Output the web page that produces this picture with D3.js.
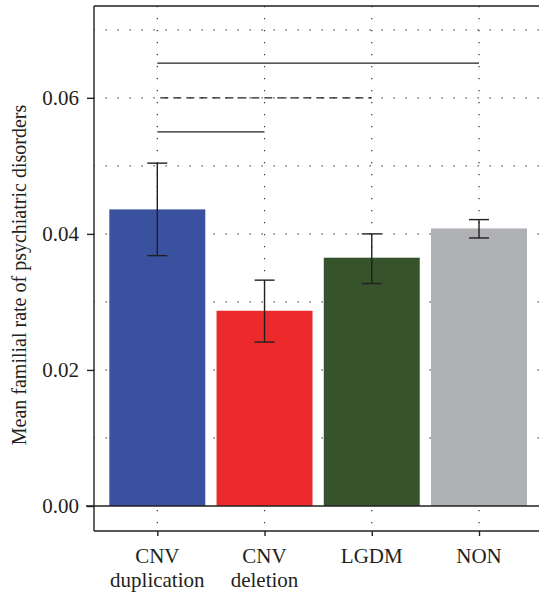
<!DOCTYPE html>
<html><head><meta charset="utf-8">
<script src="https://cdn.jsdelivr.net/npm/d3@7"></script>
<style>
html,body{margin:0;padding:0;background:#fff;}
svg{display:block;}
text{font-family:"Liberation Serif","DejaVu Serif",serif;fill:#231f20;}
</style></head>
<body>
<svg id="chart" width="539" height="592"></svg>
<script>
const categories = [["CNV","duplication"],["CNV","deletion"],["LGDM"],["NON"]];
const means = [0.0436, 0.0287, 0.0365, 0.0408];
const lowers = [0.0368, 0.0241, 0.0327, 0.0394];
const uppers = [0.0504, 0.0332, 0.0400, 0.0421];
const colors = ["#3a51a0", "#ed2a2b", "#36532c", "#b0b1b4"];
const yTicks = [0, 0.02, 0.04, 0.06];
const yGrid = [0.01, 0.02, 0.03, 0.04, 0.05, 0.06, 0.07];
// significance brackets
const sigFrom = [0, 0, 0];
const sigTo = [3, 2, 1];
const sigY = [0.0651, 0.0600, 0.0550];
const sigDashed = [false, true, false];

(function(){
const svg = d3.select("#chart");
const pL = 94, pR = 560, pT = 6, pB = 531;
const y = d3.scaleLinear().domain([-0.003676, 0.0735]).range([pB, pT]);
const x = d3.scalePoint().domain(d3.range(categories.length)).range([157.3, 479]);
const barW = x.step() * 0.895;

// grid (dotted)
const grid = svg.append("g").attr("stroke", "#333").attr("stroke-width", 1.2)
  .attr("stroke-dasharray", "1.2,10.8");
grid.selectAll("line.h").data(yGrid).join("line").attr("class","h")
  .attr("x1", pL).attr("x2", pR).attr("y1", d => y(d)).attr("y2", d => y(d))
  .attr("stroke-dashoffset", -11.5);
grid.selectAll("line.v").data(d3.range(categories.length)).join("line").attr("class","v")
  .attr("x1", d => x(d)).attr("x2", d => x(d)).attr("y1", pT).attr("y2", pB)
  .attr("stroke-dashoffset", -12);

// bars
svg.append("g").selectAll("rect").data(means).join("rect")
  .attr("x", (d,i) => x(i) - barW/2).attr("width", barW)
  .attr("y", d => y(d)).attr("height", d => y(0) - y(d))
  .attr("fill", (d,i) => colors[i]);

// error bars
const eb = svg.append("g").attr("stroke", "#231f20").attr("stroke-width", 1.4);
eb.selectAll("line.s").data(means).join("line").attr("class","s")
  .attr("x1", (d,i) => x(i)).attr("x2", (d,i) => x(i))
  .attr("y1", (d,i) => y(lowers[i])).attr("y2", (d,i) => y(uppers[i]));
eb.selectAll("line.t").data(means).join("line").attr("class","t")
  .attr("x1", (d,i) => x(i)-10).attr("x2", (d,i) => x(i)+10)
  .attr("y1", (d,i) => y(uppers[i])).attr("y2", (d,i) => y(uppers[i]));
eb.selectAll("line.b").data(means).join("line").attr("class","b")
  .attr("x1", (d,i) => x(i)-10).attr("x2", (d,i) => x(i)+10)
  .attr("y1", (d,i) => y(lowers[i])).attr("y2", (d,i) => y(lowers[i]));

// significance lines
svg.append("g").selectAll("line").data(sigY).join("line")
  .attr("x1", (d,i) => x(sigFrom[i])).attr("x2", (d,i) => x(sigTo[i]))
  .attr("y1", d => y(d)).attr("y2", d => y(d))
  .attr("stroke", "#231f20").attr("stroke-width", 1.4)
  .attr("stroke-dasharray", (d,i) => sigDashed[i] ? "8,5" : null)
  .attr("stroke-dashoffset", (d,i) => sigDashed[i] ? -3 : null);

// frame
const frame = svg.append("g").attr("stroke", "#231f20").attr("stroke-width", 1.4).attr("fill","none");
frame.append("line").attr("x1", pL).attr("x2", pL).attr("y1", pT).attr("y2", pB);
frame.append("line").attr("x1", pL).attr("x2", pR).attr("y1", pT).attr("y2", pT);
frame.append("line").attr("x1", pL).attr("x2", pR).attr("y1", pB).attr("y2", pB);
frame.append("line").attr("x1", pL - 8).attr("x2", pR).attr("y1", y(0)).attr("y2", y(0));

// y axis
const yAxis = d3.axisLeft(y).tickValues(yTicks).tickSize(7).tickPadding(8)
  .tickFormat(d3.format(".2f"));
const ya = svg.append("g").attr("transform", `translate(${pL},0)`).call(yAxis);
ya.select(".domain").remove();
ya.attr("font-size", 21).attr("font-family", "Liberation Serif");
ya.selectAll(".tick line").attr("stroke", "#231f20").attr("stroke-width", 1.4);
ya.selectAll(".tick text").attr("fill", "#231f20");

// x axis
const xAxis = d3.axisBottom(x).tickSize(5).tickFormat(() => "");
const xa = svg.append("g").attr("transform", `translate(0,${pB})`).call(xAxis);
xa.select(".domain").remove();
xa.selectAll(".tick line").attr("stroke", "#231f20").attr("stroke-width", 1.4);
svg.append("g").attr("font-size", 21).selectAll("text").data(categories).join("text")
  .attr("text-anchor", "middle")
  .attr("x", (d,i) => x(i)).attr("y", 563)
  .selectAll("tspan").data(d => d).join("tspan")
  .attr("x", function(){ return d3.select(this.parentNode).attr("x"); })
  .attr("dy", (d,i) => i === 0 ? 0 : 24)
  .text(d => d);

// y title
svg.append("text").attr("transform", "translate(26,275) rotate(-90)")
  .attr("text-anchor", "middle").attr("font-size", 20)
  .text("Mean familial rate of psychiatric disorders");
})();
</script>
</body></html>
